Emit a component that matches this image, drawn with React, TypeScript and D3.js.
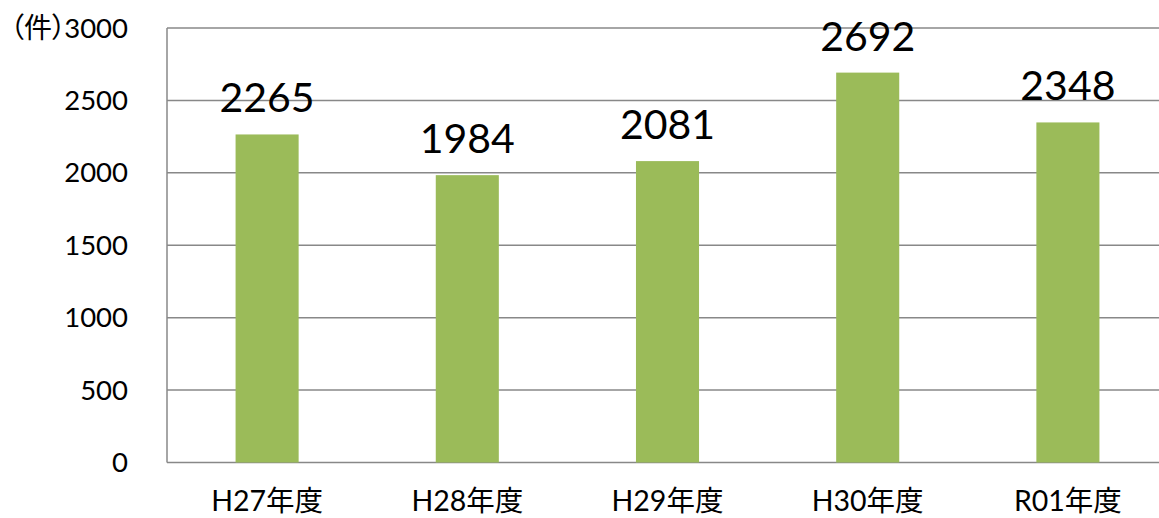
import React from "react";
import * as d3 from "d3";

const categories = ["H27年度", "H28年度", "H29年度", "H30年度", "R01年度"];
const values = [2265, 1984, 2081, 2692, 2348];
const yTicks = [0, 500, 1000, 1500, 2000, 2500, 3000];
const unitLabel = "（件）";

const W = 1159;
const H = 518;
const M = { left: 167, right: 1168, top: 28, bottom: 462.5 };
const FONT = "Lato, 'Noto Sans CJK JP', sans-serif";

export default function App() {
  const x = d3.scaleBand<string>().domain(categories).range([M.left, M.right]).paddingInner(0.685).paddingOuter(0.3425);
  const y = d3.scaleLinear().domain([0, 3000]).range([M.bottom, M.top]);
  const bw = x.bandwidth();

  return (
    <svg width={W} height={H} style={{ position: "absolute", left: 0, top: 0, background: "#fff" }}>
      <rect x={0} y={0} width={W} height={H} fill="#fff" />
      {yTicks.map((t) => (
        <line key={"g" + t} x1={M.left} x2={M.right} y1={y(t)} y2={y(t)} stroke="#888" strokeWidth={1.5} />
      ))}
      <line x1={M.left} x2={M.left} y1={M.top} y2={M.bottom} stroke="#888" strokeWidth={1.5} />
      {categories.map((c, i) => (
        <rect key={c} x={x(c)} y={y(values[i])} width={bw} height={M.bottom - y(values[i])} fill="#9BBB59" />
      ))}
      {categories.map((c, i) => (
        <text key={"l" + c} x={(x(c) as number) + bw / 2} y={y(values[i]) - 22} textAnchor="middle" fontFamily={FONT} fontSize={41} fill="#000">
          {values[i]}
        </text>
      ))}
      {yTicks.map((t) => (
        <text key={"t" + t} x={128} y={y(t) + 9.5} textAnchor="end" fontFamily={FONT} fontSize={27.5} fill="#000">
          {t}
        </text>
      ))}
      <text x={10} y={y(3000) + 10} textAnchor="start" fontFamily={FONT} fontSize={28} fill="#000" style={{ fontFeatureSettings: "'palt'" }}>
        {unitLabel}
      </text>
      {categories.map((c) => (
        <text key={"c" + c} x={(x(c) as number) + bw / 2} y={511} textAnchor="middle" fontFamily={FONT} fontSize={28.5} fill="#000">
          {c}
        </text>
      ))}
    </svg>
  );
}
